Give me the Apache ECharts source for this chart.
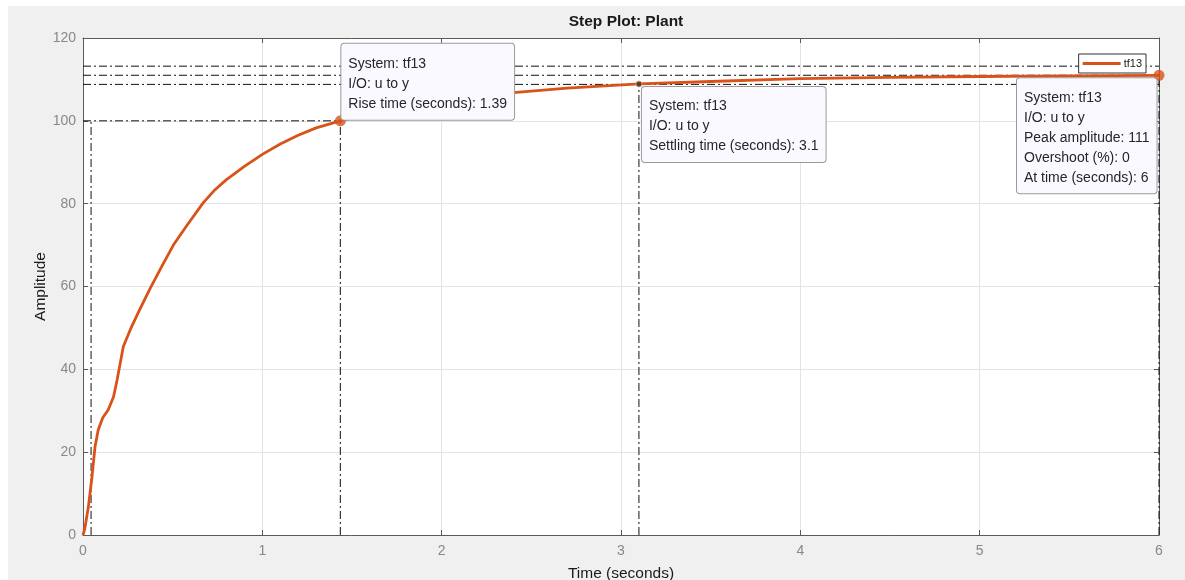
<!DOCTYPE html>
<html>
<head>
<meta charset="utf-8">
<script src="https://cdn.jsdelivr.net/npm/echarts@6/dist/echarts.min.js"></script>
<style>
    html, body { margin: 0; padding: 0; background: #ffffff; }
    #main { width: 1185px; height: 580px; }
</style>
</head>
<body>
<div id="main"></div>
<script>
// 阶跃响应数据 (时间 / 幅值)
var timeData = [0, 0.01, 0.03, 0.05, 0.067, 0.085, 0.11, 0.14, 0.17, 0.19, 0.225, 0.27, 0.318, 0.374, 0.44, 0.504, 0.58, 0.67, 0.73, 0.8, 0.9, 1.0, 1.1, 1.2, 1.3, 1.435, 1.6, 1.8, 2.0, 2.2, 2.4, 2.7, 3.1, 3.5, 4.0, 4.5, 5.0, 5.5, 6.0];
var ampData = [0, 1.5, 6.8, 14, 21.3, 25.4, 28.3, 30.2, 33.3, 37.4, 45.5, 50.2, 54.6, 59.5, 64.9, 70, 74.8, 80.2, 83.1, 85.8, 89, 91.9, 94.4, 96.5, 98.3, 100, 101.8, 103.6, 105, 106, 106.8, 107.9, 108.9, 109.5, 110.2, 110.5, 110.7, 110.85, 111];

// 特征点
var riseStartTime = 0.045;
var riseEndTime = 1.435;
var riseLevel = 100;
var settleTime = 3.1;
var settleAmp = 108.9;
var peakTime = 6;
var peakAmp = 111;
var bandHigh = 113.2;
var bandLow = 108.8;

var xTicks = [0, 1, 2, 3, 4, 5, 6];
var yTicks = [0, 20, 40, 60, 80, 100, 120];

var riseText = ["System: tf13", "I/O: u to y", "Rise time (seconds): 1.39"];
var settleText = ["System: tf13", "I/O: u to y", "Settling time (seconds): 3.1"];
var peakText = ["System: tf13", "I/O: u to y", "Peak amplitude: 111", "Overshoot (%): 0", "At time (seconds): 6"];

var lineColor = "#d95319";
var fontName = "Liberation Sans, Arial, sans-serif";

var stepData = [];
for (var i = 0; i < timeData.length; i++) {
    stepData.push([timeData[i], ampData[i]]);
}

// 点划线
var dashLine = function (points) {
    return {
        type: "line",
        data: points,
        symbol: "none",
        silent: true,
        z: 3,
        lineStyle: { color: "#111111", width: 1, type: [8, 3, 2, 3] }
    };
};

var frame = function () {
    return { show: true, onZero: false, lineStyle: { color: "#5a5a5a", width: 1 } };
};
var tickIn = function () {
    return { show: true, inside: true, length: 5, lineStyle: { color: "#5a5a5a" } };
};

var myChart = echarts.init(document.getElementById("main"));

var option = {
    animation: false,
    backgroundColor: "#ffffff",
    textStyle: { fontFamily: fontName },
    title: {
        text: "Step Plot: Plant",
        left: 621,
        top: 9,
        textAlign: "center",
        textStyle: { fontSize: 15.5, fontWeight: "bold", color: "#1a1a1a", fontFamily: fontName }
    },
    legend: {
        data: ["tf13"],
        icon: "rect",
        right: 39,
        top: 54,
        backgroundColor: "#ffffff",
        borderColor: "#333333",
        borderWidth: 1,
        borderRadius: 0,
        padding: [4, 4, 4, 4],
        itemWidth: 38,
        itemHeight: 3,
        itemGap: 2,
        textStyle: { fontSize: 11, color: "#1a1a1a", fontFamily: fontName, padding: [0, 0, 0, -2] }
    },
    grid: { left: 83, top: 38, width: 1076, height: 497, show: true, backgroundColor: "#ffffff",
            borderWidth: 0, containLabel: false, outerBoundsMode: "none" },
    xAxis: [
        {
            type: "value",
            min: 0, max: 6, interval: 1,
            name: "Time (seconds)",
            nameLocation: "middle",
            nameGap: 31,
            nameMoveOverlap: false,
            nameTextStyle: { fontSize: 15.5, color: "#1a1a1a", fontFamily: fontName },
            axisLine: frame(),
            axisTick: tickIn(),
            axisLabel: { fontSize: 14, color: "#888888", margin: 9, fontFamily: fontName,
                formatter: function (v) { return xTicks.indexOf(v) >= 0 ? String(v) : ""; } },
            splitLine: { show: true, lineStyle: { color: "#e3e3e3", width: 1 } }
        },
        {
            type: "value", position: "top",
            min: 0, max: 6, interval: 1,
            axisLine: frame(), axisTick: tickIn(),
            axisLabel: { show: false }, splitLine: { show: false }
        }
    ],
    yAxis: [
        {
            type: "value",
            min: 0, max: 120, interval: 20,
            name: "Amplitude",
            nameLocation: "middle",
            nameGap: 34,
            nameMoveOverlap: false,
            nameTextStyle: { fontSize: 15.5, color: "#1a1a1a", fontFamily: fontName },
            axisLine: frame(),
            axisTick: tickIn(),
            axisLabel: { fontSize: 14, color: "#888888", margin: 7, fontFamily: fontName,
                formatter: function (v) { return yTicks.indexOf(v) >= 0 ? String(v) : ""; } },
            splitLine: { show: true, lineStyle: { color: "#e3e3e3", width: 1 } }
        },
        {
            type: "value", position: "right",
            min: 0, max: 120, interval: 20,
            axisLine: frame(), axisTick: tickIn(),
            axisLabel: { show: false }, splitLine: { show: false }
        }
    ],
    series: [
        dashLine([[0, bandHigh], [6, bandHigh]]),
        dashLine([[0, peakAmp], [peakTime, peakAmp]]),
        dashLine([[0, bandLow], [6, bandLow]]),
        dashLine([[0, riseLevel], [riseEndTime, riseLevel]]),
        dashLine([[riseStartTime, 0], [riseStartTime, riseLevel]]),
        dashLine([[riseEndTime, 0], [riseEndTime, riseLevel]]),
        dashLine([[settleTime, 0], [settleTime, settleAmp]]),
        dashLine([[peakTime, 0], [peakTime, peakAmp]]),
        {
            name: "tf13",
            type: "line",
            data: stepData,
            symbol: "none",
            smooth: false,
            z: 5,
            lineStyle: { color: lineColor, width: 2.8, join: "round" },
            itemStyle: { color: lineColor }
        },
        {
            type: "scatter",
            data: [[riseEndTime, riseLevel], [peakTime, peakAmp]],
            symbolSize: 11,
            z: 6,
            itemStyle: { color: lineColor }
        },
        {
            type: "scatter",
            data: [[settleTime, settleAmp]],
            symbolSize: 6,
            z: 6,
            itemStyle: { color: "#333333", borderColor: "#f0a070", borderWidth: 1 }
        }
    ]
};
myChart.setOption(option);

// 数据提示框, 左上角按数据点偏移
var makeBox = function (lines, pt, dx, dy, pad) {
    var p = myChart.convertToPixel({ gridIndex: 0 }, pt);
    return {
        type: "text",
        x: p[0] + dx,
        y: p[1] + dy,
        z: 100,
        style: {
            text: lines.join("\n"),
            fontSize: 14,
            fontFamily: fontName,
            fill: "#262626",
            lineHeight: 20,
            align: "left",
            verticalAlign: "top",
            backgroundColor: "#f9f9ff",
            borderColor: "#9a9a9a",
            borderWidth: 1,
            borderRadius: 3,
            padding: pad
        }
    };
};

myChart.setOption({
    graphic: [
        { type: "rect", shape: { x: 8, y: 6, width: 1185, height: 580 }, z: -10, silent: true,
          style: { fill: "#f0f0f0" } },
        makeBox(riseText, [riseEndTime, riseLevel], 1, -77, [10, 7, 6, 7]),
        makeBox(settleText, [settleTime, settleAmp], 3, 3, [9, 7, 6, 7]),
        makeBox(peakText, [peakTime, peakAmp], -142, 3, [10, 7, 5, 7])
    ]
});
</script>
</body>
</html>
